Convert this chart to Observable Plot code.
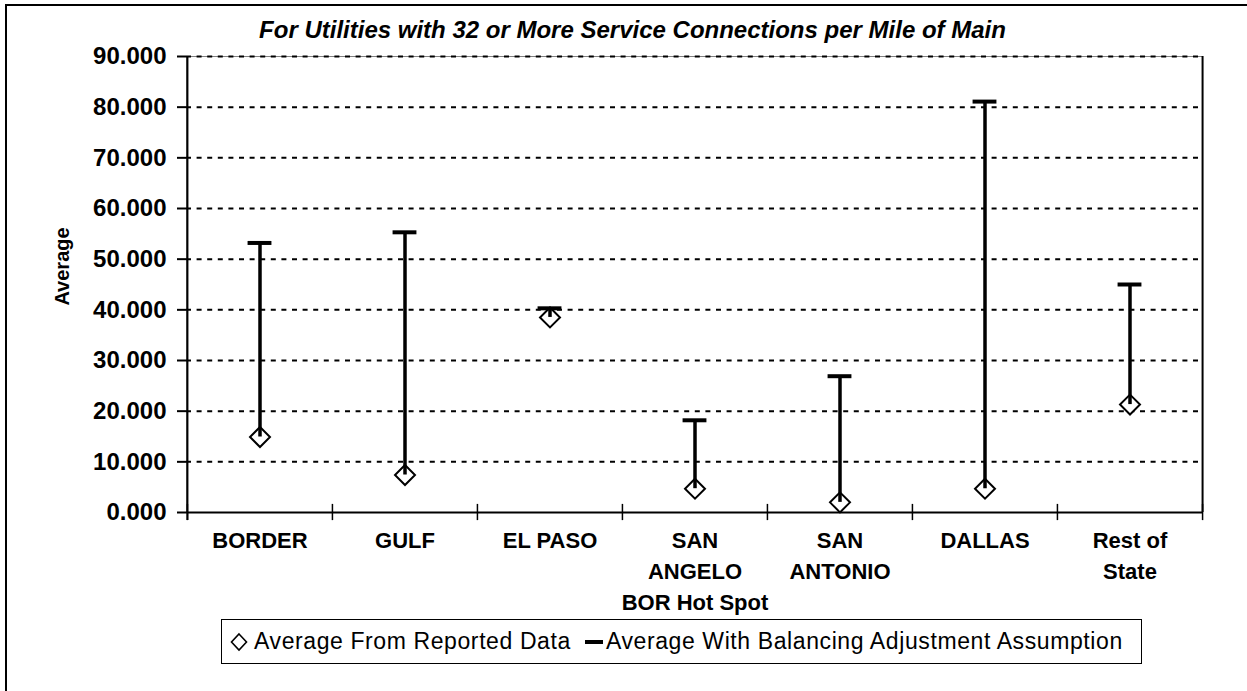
<!DOCTYPE html>
<html><head><meta charset="utf-8">
<script src="https://cdn.jsdelivr.net/npm/d3@7"></script>
<script src="https://cdn.jsdelivr.net/npm/@observablehq/plot@0.6"></script>
<style>
body{margin:0;background:#fff;font-family:"Liberation Sans",Arial,sans-serif;}
#wrap{position:relative;width:1247px;height:691px;overflow:hidden;background:#fff;}
#frame{position:absolute;left:5px;top:4px;width:1300px;height:700px;border-left:2px solid #000;border-top:2px solid #000;}
#title{position:absolute;left:0;width:1265px;top:16px;text-align:center;font-style:italic;font-weight:bold;font-size:24px;line-height:28px;}
#chart{position:absolute;left:0;top:0;}
#legend{position:absolute;left:221px;top:619px;width:919px;height:43px;border:1.5px solid #000;display:flex;align-items:center;font-size:23px;letter-spacing:0.6px;white-space:nowrap;}
#legend svg{flex:none;}
</style></head>
<body>
<div id="wrap">
  <div id="frame"></div>
  <div id="chart"></div>
  <div id="title">For Utilities with 32 or More Service Connections per Mile of Main</div>
  <div id="legend">
    <svg width="18" height="20" style="margin-left:8px"><path d="M9 2 L16.5 10 L9 18 L1.5 10 Z" fill="none" stroke="#000" stroke-width="1.6"/></svg>
    <span style="margin-left:6px">Average From Reported Data</span>
    <svg width="18" height="6" style="margin-left:14px"><rect x="0" y="1" width="18" height="4" fill="#000"/></svg>
    <span style="margin-left:3px">Average With Balancing Adjustment Assumption</span>
  </div>
</div>
<script>
const categories = ["BORDER", "GULF", "EL PASO", "SAN ANGELO BOR Hot Spot", "SAN ANTONIO", "DALLAS", "Rest of State"];
const categoryLabels = ["BORDER", "GULF", "EL PASO", "SAN\nANGELO\nBOR Hot Spot", "SAN\nANTONIO", "DALLAS", "Rest of\nState"];
const reported = [14.9, 7.4, 38.5, 4.7, 2.0, 4.7, 21.3];
const adjusted = [53.2, 55.3, 40.3, 18.2, 26.9, 81.1, 45.0];
const yTicks = [0, 10, 20, 30, 40, 50, 60, 70, 80, 90];
const yLabel = "Average";

const data = categories.map((c, i) => ({c, reported: reported[i], adjusted: adjusted[i]}));
const W = 1247, mL = 186, mR = 45;
const bw = (W - mL - mR) / categories.length;
const capW = 24;
const last = categories[categories.length - 1];

const chart = Plot.plot({
  width: W, height: 624,
  marginLeft: mL, marginRight: mR, marginTop: 56, marginBottom: 112,
  style: {fontFamily: "'Liberation Sans', Arial, sans-serif", color: "#000", background: "transparent", overflow: "visible"},
  x: {domain: categories, padding: 0},
  y: {domain: [0, 90]},
  marks: [
    Plot.frame({stroke: "#808080", strokeWidth: 1}),
    Plot.gridY(yTicks.filter(d => d > 0), {stroke: "#000", strokeOpacity: 1, strokeWidth: 2, strokeDasharray: "5,5.6"}),
    Plot.ruleY([0], {stroke: "#000", strokeWidth: 2}),
    Plot.ruleX([categories[0]], {dx: -bw / 2, y1: -1.6, y2: 90, stroke: "#000", strokeWidth: 2}),
    Plot.ruleX([last], {dx: bw / 2, stroke: "#000", strokeWidth: 2}),
    Plot.ruleX(categories, {x: d => d, dx: -bw / 2, y1: -1.6, y2: 1.6, stroke: "#000", strokeWidth: 1.5}),
    Plot.ruleX([last], {x: d => d, dx: bw / 2, y1: -1.6, y2: 1.6, stroke: "#000", strokeWidth: 1.5}),
    Plot.axisY({ticks: yTicks, tickFormat: d => d.toFixed(3), tickSize: 9, tickPadding: 11, fontSize: 24, fontWeight: "bold", label: null, strokeWidth: 2}),
    Plot.axisX({tickSize: 0, tickPadding: 13, tickFormat: d => categoryLabels[categories.indexOf(d)], fontSize: 22, fontWeight: "bold", lineHeight: 1.42, label: null}),
    Plot.text([yLabel], {text: d => d, frameAnchor: "left", rotate: -90, dx: -124, dy: -18, textAnchor: "middle", fontSize: 20, fontWeight: "bold", fill: "#000"}),
    Plot.dot(data, {x: "c", y: "reported", symbol: "diamond2", r: 9, fill: "#fff", stroke: "#000", strokeWidth: 2}),
    Plot.ruleX(data, {x: "c", y1: "reported", y2: "adjusted", stroke: "#000", strokeWidth: 3.5}),
    Plot.tickY(data, {x: "c", y: "adjusted", stroke: "#000", strokeWidth: 4, insetLeft: (bw - capW) / 2, insetRight: (bw - capW) / 2})
  ]
});
document.getElementById("chart").appendChild(chart);
</script>
</body></html>
